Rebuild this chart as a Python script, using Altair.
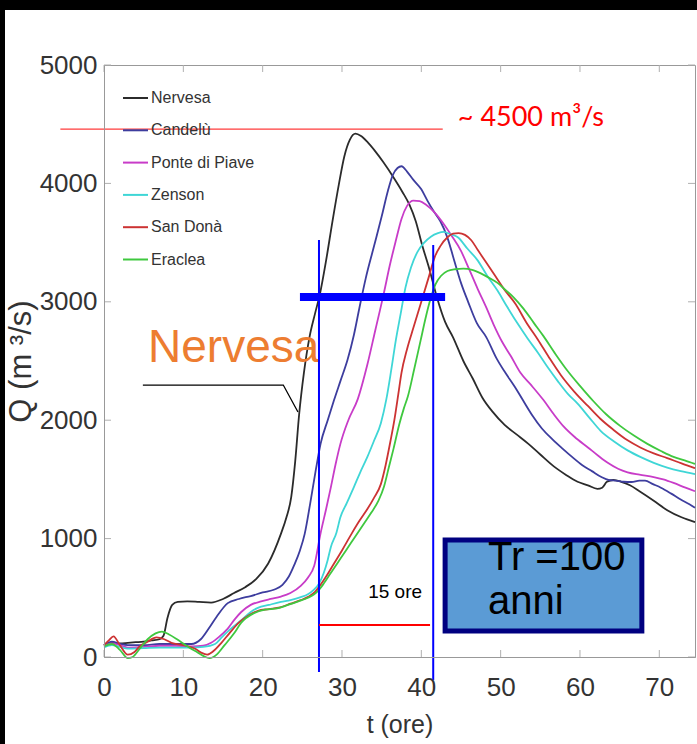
import altair as alt
import pandas as pd

# ---------------- data ----------------
SERIES = ["Nervesa", "Candelù", "Ponte di Piave", "Zenson", "San Donà", "Eraclea"]
COLORS = ["#2b2b2b", "#3d3d9e", "#c83cc8", "#3fd6d6", "#cc3333", "#3fc83f"]

T_NERV = [0, 1, 2, 3, 4, 5, 6, 7, 7.5, 8.0, 8.6, 9.3, 10.5, 12, 13.5, 15, 16.4, 17.8, 19.2, 20.7,
          22.3, 23.0, 23.6, 24.1, 24.6, 25.2, 25.9, 26.6, 27.2, 28.0, 28.8, 29.6, 30.3, 31.0, 31.7,
          32.4, 33.2, 34.2, 35.2, 36.5, 37.6, 38.5, 39.3, 40.1, 41.0, 42.0, 43.0, 44.0, 45.3, 46.5,
          47.7, 49.0, 50.5, 52.0, 53.5, 55.0, 56.7, 58.2, 59.7, 61.0, 62.2, 62.8, 63.4, 64.2, 65.2,
          66.3, 67.5, 69.3, 71.0, 72.8, 74.5]
Q_NERV = [100, 120, 115, 120, 125, 130, 140, 150, 180, 330, 440, 465, 470, 465, 460, 490, 540, 590, 660, 790,
          1040, 1180, 1350, 1650, 2050, 2400, 2700, 2900, 3060, 3350, 3680, 3990, 4230, 4370, 4420,
          4400, 4350, 4270, 4180, 4050, 3930, 3820, 3680, 3480, 3280, 3030, 2830, 2700, 2500, 2350,
          2190, 2070, 1960, 1880, 1800, 1710, 1610, 1540, 1480, 1450, 1420, 1430, 1480, 1495, 1480,
          1450, 1400, 1320, 1240, 1180, 1140]

T_CAND = [0, 1, 2, 3, 5, 7, 9, 11, 12.2, 13.2, 14.2, 15.6, 17.0, 18.5, 20.0, 21.5, 22.5, 23.3, 24.0,
          24.7, 25.3, 26.0, 26.7, 27.3, 28.2, 29.0, 29.8, 30.7, 31.5, 32.2, 33.0, 34.0, 35.0, 35.8,
          36.4, 37.0, 37.5, 38.2, 39.0, 40.0, 40.8, 41.6, 42.4, 43.3, 44.1, 45.0, 45.9, 47.0, 48.2,
          49.5, 50.6, 51.8, 52.8, 54.0, 55.2, 56.5, 57.8, 59.0, 60.3, 61.5, 62.7, 63.6, 64.5, 65.5,
          66.5, 67.5, 68.2, 69.2, 70.2, 71.5, 72.7, 73.8, 74.5]
Q_CAND = [100, 130, 110, 100, 100, 110, 110, 110, 150, 240, 340, 455, 490, 515, 545, 570, 610, 680, 780,
          900, 1040, 1300, 1580, 1800, 2000, 2170, 2330, 2510, 2720, 2950, 3200, 3460, 3720, 3940,
          4070, 4130, 4145, 4100, 4030, 3950, 3850, 3760, 3680, 3540, 3360, 3160, 3000, 2820, 2700,
          2520, 2400, 2280, 2170, 2040, 1930, 1840, 1760, 1690, 1620, 1570, 1520, 1495, 1490, 1480,
          1478, 1490, 1490, 1460, 1430, 1380, 1330, 1290, 1260]

T_PONT = [0, 1, 2, 3, 5, 7, 9, 11, 12.5, 13.5, 14.5, 15.6, 16.5, 17.3, 18.5, 19.8, 21, 22.3, 23.5,
          24.8, 25.7, 26.5, 27.3, 28.0, 28.6, 29.2, 29.8, 30.8, 32.0, 33.2, 34.2, 35.3, 36.0, 36.8,
          37.5, 38.2, 39.0, 39.8, 40.6, 41.6, 42.8, 43.8, 45.0, 46.0, 47.1, 48.2, 49.1, 50.2, 51.3,
          52.5, 53.8, 55.4, 56.7, 57.9, 59.3, 61.0, 62.3, 63.5, 64.8, 66.0, 67.5, 69.3, 70.5, 71.8,
          73.3, 74.5]
Q_PONT = [90, 115, 100, 80, 85, 95, 95, 90, 95, 120, 170, 240, 320, 380, 440, 470, 490, 510, 540,
          600, 670, 770, 1045, 1250, 1435, 1630, 1800, 2000, 2180, 2470, 2760, 3080, 3300, 3520,
          3700, 3810, 3855, 3850, 3820, 3760, 3660, 3560, 3430, 3280, 3110, 2950, 2810, 2660, 2540,
          2400, 2300, 2170, 2050, 1950, 1860, 1770, 1700, 1640, 1590, 1560, 1540, 1520, 1500, 1470,
          1430, 1400]

T_ZENS = [0, 1, 2, 3, 5, 7, 9, 11, 12.5, 14, 14.9, 16.0, 17.3, 18.5, 19.4, 20.8, 22.3, 23.5, 24.8,
          25.7, 26.4, 27.1, 27.7, 28.2, 28.6, 29.3, 29.8, 30.6, 31.5, 32.3, 33.2, 34.0, 34.9, 35.6,
          36.2, 36.8, 37.4, 38.0, 38.7, 39.5, 40.3, 41.2, 42.1, 42.8, 43.7, 44.6, 45.8, 47.1, 48.3,
          49.6, 50.8, 52.1, 53.4, 54.7, 56.0, 57.2, 58.5, 59.7, 61.2, 62.6, 64.3, 66.0, 67.6, 69.3,
          71.0, 72.7, 74.5]
Q_ZENS = [80, 100, 85, 70, 75, 80, 80, 80, 85, 110, 170, 240, 310, 380, 415, 440, 465, 480, 505,
          530, 565, 620, 710, 820, 930, 1050, 1180, 1300, 1435, 1560, 1690, 1820, 1975, 2180,
          2420, 2680, 2900, 3120, 3290, 3420, 3495, 3550, 3580, 3590, 3570, 3545, 3450, 3350, 3220,
          3095, 2960, 2820, 2690, 2570, 2440, 2330, 2220, 2140, 2020, 1910, 1820, 1745, 1690, 1640,
          1600, 1570, 1545]

T_SAND = [0, 0.6, 1.2, 2.0, 3.0, 3.8, 4.5, 5.5, 6.6, 7.6, 8.5, 10, 11.5, 12.3, 13.0, 13.8, 14.8,
          15.8, 17.0, 18.2, 19.4, 20.8, 22.2, 23.5, 24.8, 25.8, 26.6, 27.3, 28.1, 29.0, 30.0, 31.2,
          32.2, 33.2, 34.0, 34.9, 35.5, 36.1, 36.6, 37.1, 37.5, 38.2, 39.0, 40.0, 40.9, 41.7, 42.4,
          43.3, 44.0, 44.7, 45.5, 46.3, 47.1, 48.1, 49.2, 50.5, 51.9, 53.2, 54.7, 56.1, 57.6, 59.3,
          61.0, 62.6, 64.2, 66.0, 67.6, 69.3, 71.0, 72.8, 74.5]
Q_SAND = [100, 140, 175, 100, 20, 40, 90, 130, 165, 150, 120, 100, 70, 35, 20, 50, 120,
          200, 290, 350, 390, 405, 420, 450, 480, 510, 550, 610, 690, 790, 900, 1040,
          1150, 1250, 1340, 1460, 1620, 1820, 2000, 2220, 2400, 2600, 2780, 3000, 3200, 3380, 3470,
          3545, 3575, 3580, 3565, 3520, 3440, 3340, 3230, 3100, 2980, 2830, 2680, 2530, 2380, 2240,
          2120, 2010, 1920, 1830, 1770, 1720, 1680, 1635, 1595]

T_ERAC = [0, 1.0, 2.0, 3.0, 3.6, 4.5, 5.5, 6.5, 7.3, 8.2, 9.2, 10.3, 11.5, 12.5, 13.3, 14.2, 15.2,
          16.4, 17.3, 18.9, 20.3, 21.8, 23.2, 24.5, 25.7, 26.5, 27.0, 27.7, 28.5, 29.4, 30.5, 31.7,
          32.8, 33.7, 34.6, 35.3, 35.9, 36.5, 37.2, 37.8, 38.3, 39.1, 39.9, 40.6, 41.1, 41.8, 42.5,
          43.3, 44.3, 45.3, 46.4, 47.5, 48.6, 49.6, 50.6, 51.6, 52.9, 54.2, 55.4, 56.9, 58.4, 60.0,
          61.7, 63.3, 65.1, 66.8, 68.5, 70.2, 71.8, 73.2, 74.5]
Q_ERAC = [90, 110, 60, -10, 0, 70, 150, 200, 215, 190, 150, 100, 50, 10, -10, 20, 100,
          200, 290, 370, 400, 410, 440, 470, 500, 530, 560, 620, 700, 790, 900, 1020,
          1130, 1220, 1320, 1440, 1600, 1760, 1960, 2100, 2200, 2430, 2670, 2880, 3010, 3150, 3220,
          3260, 3275, 3280, 3270, 3240, 3200, 3160, 3100, 3040, 2940, 2820, 2710, 2560, 2420, 2290,
          2160, 2050, 1950, 1870, 1800, 1740, 1690, 1660, 1630]

X_TICKS = [0, 10, 20, 30, 40, 50, 60, 70]
Y_TICKS = [0, 1000, 2000, 3000, 4000, 5000]

# annotations (data units)
PEAK_LINE_T = [-5.5, 42.7]
PEAK_LINE_Q = 4459
PEAK_TEXT = "~ 4500 m³/s"
PEAK_TEXT_POS = (44.6, 4552)
NERV_TEXT = "Nervesa"
NERV_TEXT_POS = (5.55, 2492)
LEADER_T = [4.9, 22.6, 24.45]
LEADER_Q = [2297, 2297, 2069]
VLINE_T = [27.1, 41.5]
VLINE_Q_TOP = [3522, 3480]
VLINE_Q_BOT = [-127, -194]
BAR_T = [24.7, 43.0]
BAR_Q = 3041
SPAN_T = [27.1, 41.1]
SPAN_Q = 270
SPAN_TEXT = "15 ore"
SPAN_TEXT_POS = (36.7, 549)
BOX_T = [43.0, 67.8]
BOX_Q = [220, 988]
BOX_LINES = ["Tr =100", "anni"]
BOX_TEXT_T = 48.4
BOX_TEXT_Q = [735, 363]

# ---------------- build ----------------
W, H = 591, 592
SANS = "Liberation Sans, Arial, sans-serif"

all_t, all_q, all_s = [], [], []
for name, ts, qs in zip(SERIES,
                        [T_NERV, T_CAND, T_PONT, T_ZENS, T_SAND, T_ERAC],
                        [Q_NERV, Q_CAND, Q_PONT, Q_ZENS, Q_SAND, Q_ERAC]):
    all_t += ts
    all_q += qs
    all_s += [name] * len(ts)
df = pd.DataFrame({"t": all_t, "Q": all_q, "serie": all_s})

xscale = alt.Scale(domain=[0, 74.5], nice=False, zero=False)
yscale = alt.Scale(domain=[0, 5000], nice=False, zero=False)

xaxis = alt.Axis(values=X_TICKS, format="d", title="t (ore)", labelFont=SANS, labelFontSize=26,
                 labelColor="#333", titleFont=SANS, titleFontSize=25, titleFontWeight="normal",
                 titleColor="#333", ticks=False, domainColor="#999", grid=False,
                 labelPadding=17, titlePadding=12, zindex=1, labelFlush=False)
yaxis = alt.Axis(values=Y_TICKS, format="d", title="Q (m ³/s)", labelFont=SANS, labelFontSize=26,
                 labelColor="#333", titleFont=SANS, titleFontSize=31, titleFontWeight="normal",
                 titleColor="#333", ticks=False, domainColor="#999", grid=False,
                 labelPadding=7, titlePadding=2, zindex=1, labelFlush=False)


def X(field="t"):
    return alt.X(f"{field}:Q", scale=xscale, axis=xaxis)


def Y(field="Q"):
    return alt.Y(f"{field}:Q", scale=yscale, axis=yaxis)


lines = alt.Chart(df).mark_line(strokeWidth=1.8, interpolate="monotone", clip=False).encode(
    x=X(), y=Y(),
    color=alt.Color("serie:N", scale=alt.Scale(domain=SERIES, range=COLORS),
                    legend=alt.Legend(orient="none", legendX=18, legendY=19.5, title=None,
                                      symbolType="stroke", symbolSize=625, symbolStrokeWidth=2,
                                      labelFont=SANS, labelFontSize=16, labelColor="#333",
                                      rowPadding=10.3, labelOffset=2, padding=0)),
    detail="serie:N",
)

# inward ticks
xt = pd.DataFrame({"t": X_TICKS})
yt = pd.DataFrame({"Q": Y_TICKS})
tick_style = dict(color="#b0b0b0", strokeWidth=1)
ticks = [
    alt.Chart(xt).mark_rule(**tick_style).encode(x=X(), y=alt.value(H), y2=alt.value(H - 7)),
    alt.Chart(xt).mark_rule(**tick_style).encode(x=X(), y=alt.value(0), y2=alt.value(7)),
    alt.Chart(yt).mark_rule(**tick_style).encode(y=Y(), x=alt.value(0), x2=alt.value(7)),
    alt.Chart(yt).mark_rule(**tick_style).encode(y=Y(), x=alt.value(W), x2=alt.value(W - 7)),
]

one = pd.DataFrame({"k": [0]})
strips = [
    alt.Chart(one).mark_rect(color="black").encode(
        x=alt.value(-104), x2=alt.value(-99), y=alt.value(-65), y2=alt.value(H + 87)),
    alt.Chart(one).mark_rect(color="black").encode(
        x=alt.value(-104), x2=alt.value(W + 2), y=alt.value(-65), y2=alt.value(-55)),
]

peak_line = alt.Chart(pd.DataFrame({"t": [PEAK_LINE_T[0]], "t2": [PEAK_LINE_T[1]], "Q": [PEAK_LINE_Q]})
                      ).mark_rule(color="#ff3b3b", strokeWidth=1.3).encode(x=X(), x2="t2:Q", y=Y())
peak_text = alt.Chart(pd.DataFrame({"t": [PEAK_TEXT_POS[0]], "Q": [PEAK_TEXT_POS[1]], "s": [PEAK_TEXT]})
                      ).mark_text(align="left", baseline="middle", font="Lato, Open Sans, sans-serif",
                                  fontSize=27, color="#ff0000").encode(x=X(), y=Y(), text="s:N")

nerv_text = alt.Chart(pd.DataFrame({"t": [NERV_TEXT_POS[0]], "Q": [NERV_TEXT_POS[1]], "s": [NERV_TEXT]})
                      ).mark_text(align="left", baseline="alphabetic", font=SANS, fontSize=46,
                                  color="#ED7D31").encode(x=X(), y=Y(), text="s:N")
leader = alt.Chart(pd.DataFrame({"t": LEADER_T, "Q": LEADER_Q, "o": [0, 1, 2]})
                   ).mark_line(color="black", strokeWidth=1.3).encode(x=X(), y=Y(), order="o:Q")

vlines = alt.Chart(pd.DataFrame({"t": VLINE_T, "Q": VLINE_Q_TOP, "Q2": VLINE_Q_BOT})
                   ).mark_rule(color="#0000ff", strokeWidth=2).encode(x=X(), y=Y(), y2="Q2:Q")
bar = alt.Chart(pd.DataFrame({"t": [BAR_T[0]], "t2": [BAR_T[1]], "Q": [BAR_Q]})
                ).mark_rule(color="#0000ff", strokeWidth=8).encode(x=X(), x2="t2:Q", y=Y())
span = alt.Chart(pd.DataFrame({"t": [SPAN_T[0]], "t2": [SPAN_T[1]], "Q": [SPAN_Q]})
                 ).mark_rule(color="#ff0000", strokeWidth=2).encode(x=X(), x2="t2:Q", y=Y())
span_text = alt.Chart(pd.DataFrame({"t": [SPAN_TEXT_POS[0]], "Q": [SPAN_TEXT_POS[1]], "s": [SPAN_TEXT]})
                      ).mark_text(align="center", baseline="middle", font=SANS, fontSize=19,
                                  color="black").encode(x=X(), y=Y(), text="s:N")

box = alt.Chart(pd.DataFrame({"t": [BOX_T[0]], "t2": [BOX_T[1]], "Q": [BOX_Q[0]], "Q2": [BOX_Q[1]]})
                ).mark_rect(fill="#5B9BD5", stroke="#000080", strokeWidth=5).encode(
    x=X(), x2="t2:Q", y=Y(), y2="Q2:Q")
box_text = alt.Chart(pd.DataFrame({"t": [BOX_TEXT_T] * 2, "Q": BOX_TEXT_Q, "s": BOX_LINES})
                     ).mark_text(align="left", baseline="alphabetic", font=SANS, fontSize=40,
                                 color="black").encode(x=X(), y=Y(), text="s:N")

chart = alt.layer(
    *strips, *ticks, lines, peak_line, peak_text, leader, nerv_text,
    vlines, bar, span, span_text, box, box_text
).properties(
    width=W, height=H,
    autosize=alt.AutoSizeParams(type="none"),
    padding={"left": 104, "top": 65, "right": 2, "bottom": 87},
).configure(background="white").configure_view(stroke="#999", strokeWidth=1)

chart.save("out.html", embed_options={"renderer": "svg", "actions": False})
